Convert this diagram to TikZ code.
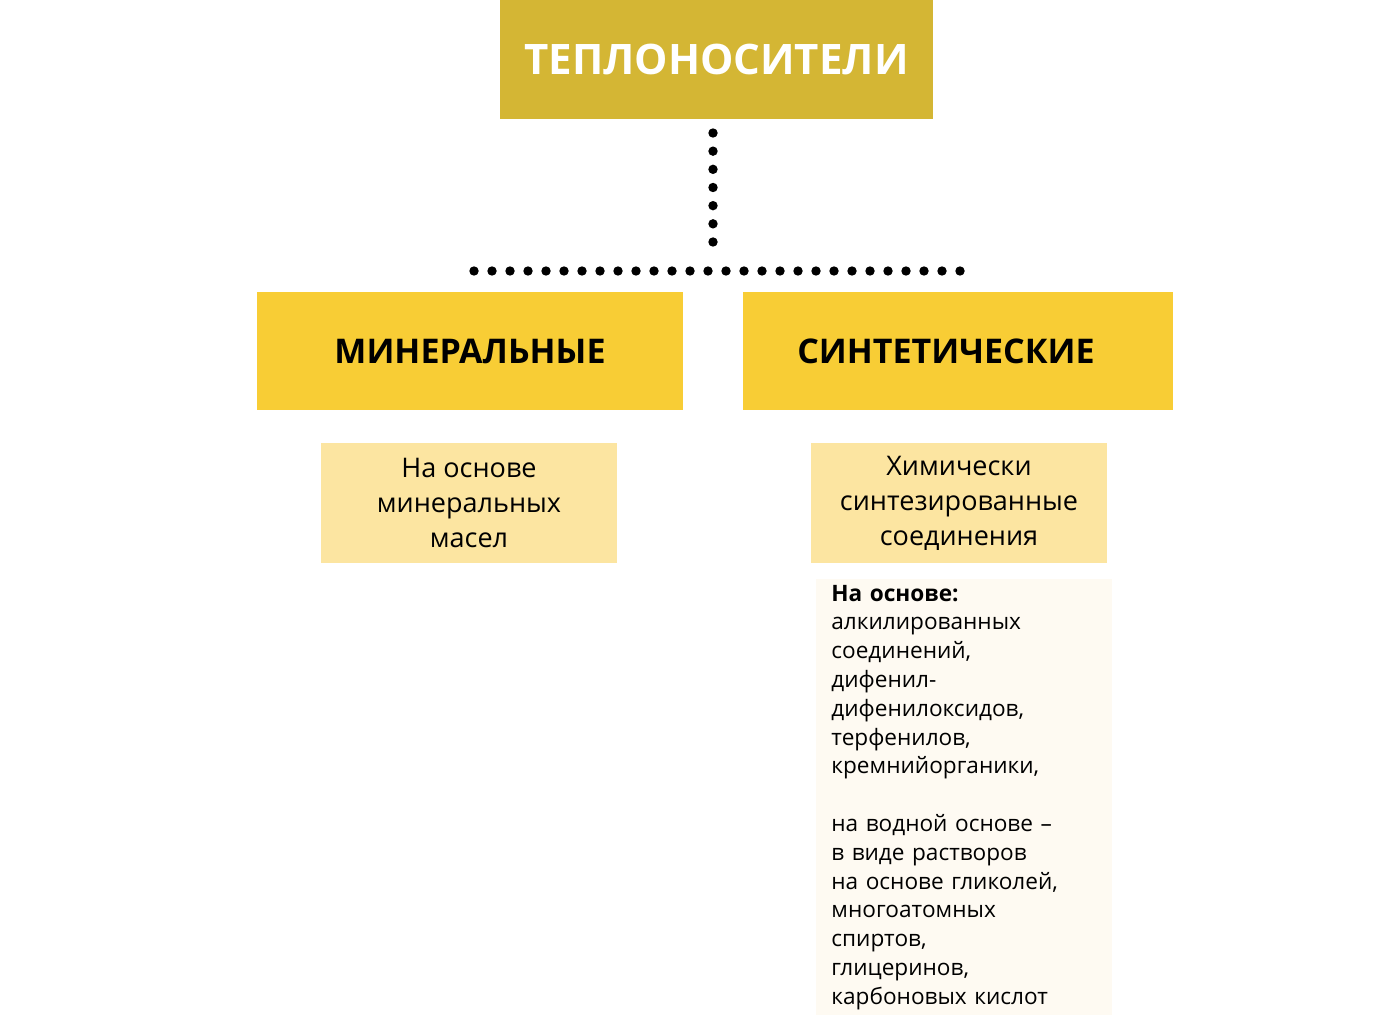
\documentclass[tikz,border=0pt]{standalone}
\usepackage{fontspec}
\setmainfont{Open Sans}
\definecolor{topc}{HTML}{D4B634}
\definecolor{midc}{HTML}{F8CD35}
\definecolor{subc}{HTML}{FCE5A1}
\definecolor{txtc}{HTML}{FEFAF2}
\tikzset{
  topbox/.style={fill=topc, text=white, font=\fontsize{21}{25}\selectfont\bfseries, minimum width=216.5pt, minimum height=59.5pt, inner sep=0pt},
  midbox/.style={fill=midc, text=black, font=\fontsize{17}{21}\selectfont\bfseries, minimum height=59pt, inner sep=0pt},
  subbox/.style={fill=subc, text=black, font=\fontsize{13.5}{17.5}\selectfont, minimum width=148pt, minimum height=60pt, inner sep=0pt, align=center},
  txtbox/.style={fill=txtc, text=black, font=\fontsize{11.3}{14.4}\selectfont, text width=133pt, inner xsep=7.5pt, inner ysep=0pt, minimum height=218pt, align=left},
  dotv/.style={line width=4.7pt, line cap=round, dash pattern=on 0pt off 9.083pt},
  doth/.style={line width=4.7pt, line cap=round, dash pattern=on 0pt off 9.0pt}
}
\begin{document}
\begin{tikzpicture}[x=0.5pt,y=-0.5pt]
\useasboundingbox (0,0) rectangle (1391,1027);
\node[topbox] (top) at (716.5,59.5) {ТЕПЛОНОСИТЕЛИ};
\node[midbox, minimum width=213pt] (min) at (470,351) {МИНЕРАЛЬНЫЕ};
\node[midbox, minimum width=215pt] (syn) at (958,351) {СИНТЕТИЧЕСКИЕ\hspace*{12pt}};
\node[subbox] (minsub) at (469,503) {На основе\\минеральных\\масел};
\node[subbox] (synsub) at (959,503) {Химически\\синтезированные\\соединения};
\node[txtbox, anchor=north west] (syntxt) at (816,579) {{\bfseries На основе:}\\алкилированных\\соединений,\\дифенил-\\дифенилоксидов,\\терфенилов,\\кремнийорганики,\\[14.4pt]на водной основе –\\в виде растворов\\на основе гликолей,\\многоатомных\\спиртов,\\глицеринов,\\карбоновых кислот};
\coordinate (v1) at (713,133);
\coordinate (v2) at (713,242);
\coordinate (h1) at (474,271);
\coordinate (h2) at (961,271);
\draw[dotv] (v1) -- (v2);
\draw[doth] (h1) -- ([xshift=1pt]h2);
\end{tikzpicture}
\end{document}
